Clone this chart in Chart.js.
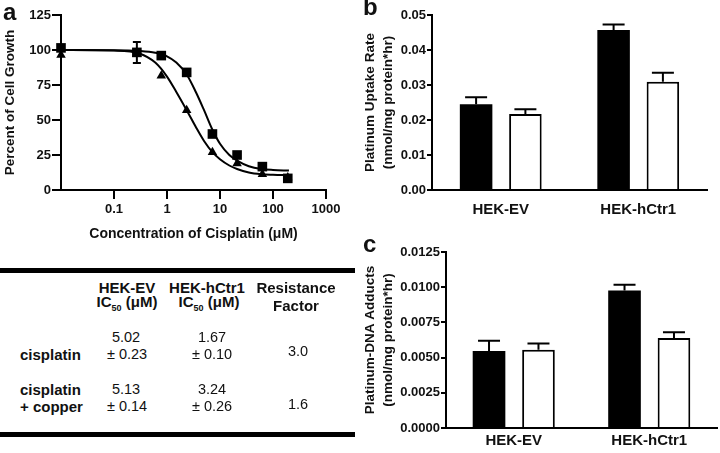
<!DOCTYPE html>
<html>
<head>
<meta charset="utf-8">
<script src="https://cdn.jsdelivr.net/npm/chart.js@4"></script>
<style>
  body { margin: 0; background: #fff; font-family: "Liberation Sans", Arial, sans-serif; color: #111; }
  #wrap { position: relative; width: 720px; height: 453px; overflow: hidden; }
  canvas { position: absolute; }
  .letter { position: absolute; font-weight: bold; font-size: 24px; line-height: 24px; }
  .t { position: absolute; font-size: 14.5px; line-height: 15px; white-space: nowrap; transform: translate(-50%, -50%); }
  .b { font-weight: bold; font-size: 15px; }
  .left { transform: translate(0, -50%); }
  .rule { position: absolute; left: 0; width: 355px; height: 5px; background: #000; }
  sub { font-size: 9px; }
</style>
</head>
<body>
<div id="wrap">
  <canvas id="chartA" width="355" height="245" style="left:0;top:0"></canvas>
  <canvas id="chartB" width="360" height="225" style="left:360px;top:0"></canvas>
  <canvas id="chartC" width="360" height="228" style="left:360px;top:225px"></canvas>
  <div class="letter" style="left:3px;top:0">a</div>
  <div class="letter" style="left:363px;top:-5px">b</div>
  <div class="letter" style="left:363px;top:232px">c</div>
  <div class="rule" style="top:268px"></div>
  <div class="rule" style="top:432px"></div>
  <div id="table"></div>
</div>
<script>
// Panel a - cell growth vs cisplatin concentration
const concentrations = [0.01, 0.27, 0.78, 2.35, 7.2, 21, 63, 190];
const evGrowth = [101.5, 98.3, 96, 84, 40, 25, 16.7, 8.3];
const evGrowthErr = [0, 7.5, 0, 0, 0, 0, 0, 0];
const ctrGrowth = [96.5, 97, 81.6, 57, 27, 19, 11.2, 9];

// fitted curves
const curveConc = [0.01, 0.1, 0.3, 0.6, 1, 1.5, 2.35, 3.5, 5, 7.2, 10, 15, 21, 35, 60, 100, 200];
const evCurve = [100, 99.9, 99.3, 98, 95.5, 91, 82.5, 70, 57, 43, 33, 25, 21, 17, 15, 14.3, 13.9];
const ctrCurve = [100, 99.6, 97.5, 91, 81, 70, 57, 45, 35, 27, 22, 17.5, 15, 12.5, 11.3, 10.9, 10.6];
const concTicks = [0.1, 1, 10, 100, 1000];

// Panels b and c
const cellLines = ['HEK-EV', 'HEK-hCtr1'];
const uptakeBlack = [0.0245, 0.0457];
const uptakeBlackErr = [0.002, 0.0016];
const uptakeWhite = [0.0217, 0.0309];
const uptakeWhiteErr = [0.0014, 0.0026];
const adductBlack = [0.00547, 0.00977];
const adductBlackErr = [0.00073, 0.0004];
const adductWhite = [0.00556, 0.00639];
const adductWhiteErr = [0.00044, 0.00041];

// Table
const tableRows = [
    { name: ['cisplatin'], ev: ['5.02', '\u00b1 0.23'], ctr: ['1.67', '\u00b1 0.10'], rf: '3.0' },
    { name: ['cisplatin', '+ copper'], ev: ['5.13', '\u00b1 0.14'], ctr: ['3.24', '\u00b1 0.26'], rf: '1.6' }
];

const FONT = "'Liberation Sans', Arial, sans-serif";
Chart.defaults.font.family = FONT;
Chart.defaults.color = '#111';
Chart.defaults.animation = false;
Chart.defaults.plugins.legend.display = false;
Chart.defaults.plugins.tooltip.enabled = false;

// draws error bars from dataset.errors
const errorBars = {
    id: 'errorBars',
    afterDatasetsDraw(chart) {
        const ctx = chart.ctx;
        const yScale = chart.scales.y;
        chart.data.datasets.forEach((ds, i) => {
            if (!ds.errors) return;
            const meta = chart.getDatasetMeta(i);
            meta.data.forEach((el, j) => {
                const err = ds.errors[j];
                if (!err) return;
                const v = typeof ds.data[j] === 'object' ? ds.data[j].y : ds.data[j];
                const x = el.x;
                const top = yScale.getPixelForValue(v + err);
                const bottom = ds.bothWays ? yScale.getPixelForValue(v - err) : el.y;
                const cap = ds.capWidth / 2;
                ctx.save();
                ctx.strokeStyle = '#000';
                ctx.lineWidth = 2;
                ctx.beginPath();
                ctx.moveTo(x, top);
                ctx.lineTo(x, bottom);
                ctx.moveTo(x - cap, top);
                ctx.lineTo(x + cap, top);
                if (ds.bothWays) {
                    ctx.moveTo(x - cap, bottom);
                    ctx.lineTo(x + cap, bottom);
                }
                ctx.stroke();
                ctx.restore();
            });
        });
    }
};

function axisStyle(tickLength) {
    return {
        grid: { drawOnChartArea: false, drawTicks: true, tickLength: tickLength, color: '#000', lineWidth: 2 },
        border: { color: '#000', width: 2 }
    };
}

// ---- Panel a ----
new Chart(document.getElementById('chartA'), {
    type: 'scatter',
    data: {
        datasets: [{
            data: curveConc.map((c, i) => ({ x: c, y: evCurve[i] })),
            showLine: true, pointRadius: 0, borderColor: '#000', borderWidth: 2,
            cubicInterpolationMode: 'monotone', clip: false
        }, {
            data: curveConc.map((c, i) => ({ x: c, y: ctrCurve[i] })),
            showLine: true, pointRadius: 0, borderColor: '#000', borderWidth: 2,
            cubicInterpolationMode: 'monotone', clip: false
        }, {
            data: concentrations.map((c, i) => ({ x: c, y: ctrGrowth[i] })),
            pointStyle: 'triangle', pointRadius: 5.5, backgroundColor: '#000', borderColor: '#000', borderWidth: 0,
            clip: false
        }, {
            data: concentrations.map((c, i) => ({ x: c, y: evGrowth[i] })),
            pointStyle: 'rect', pointRadius: 6.8, backgroundColor: '#000', borderColor: '#000', borderWidth: 0,
            errors: evGrowthErr, bothWays: true, capWidth: 8, clip: false
        }]
    },
    options: {
        responsive: false,
        layout: { padding: { top: 15, right: 29, left: 0, bottom: 0 } },
        scales: {
            x: {
                type: 'logarithmic', min: 0.01, max: 1000,
                ...axisStyle(9),
                afterBuildTicks: scale => { scale.ticks = concTicks.map(v => ({ value: v })); },
                afterFit: scale => { scale.height = 55; },
                ticks: { font: { size: 13, weight: 'bold' }, padding: 3, maxRotation: 0, callback: v => String(v) },
                title: { display: true, text: 'Concentration of Cisplatin (\u03bcM)', font: { size: 14, weight: 'bold' }, padding: { top: 0, bottom: 2 } }
            },
            y: {
                min: 0, max: 125,
                ...axisStyle(9),
                afterFit: scale => { scale.width = 61; },
                ticks: { stepSize: 25, font: { size: 13, weight: 'bold' }, padding: 1 },
                title: { display: true, text: 'Percent of Cell Growth', font: { size: 13.5, weight: 'bold' }, padding: { top: 2, bottom: 0 } }
            }
        }
    },
    plugins: [errorBars]
});

// ---- Panels b and c ----
function barChart(id, blackVals, blackErr, whiteVals, whiteErr, yOpts) {
    new Chart(document.getElementById(id), {
        type: 'bar',
        data: {
            labels: cellLines,
            datasets: [{
                data: blackVals, backgroundColor: '#000', borderWidth: 0,
                errors: blackErr, capWidth: 22
            }, {
                data: whiteVals, backgroundColor: '#fff', borderColor: '#000', borderWidth: 2,
                errors: whiteErr, capWidth: 22
            }]
        },
        options: {
            responsive: false,
            categoryPercentage: yOpts.cat,
            barPercentage: 0.66,
            layout: { padding: yOpts.padding },
            scales: {
                x: {
                    grid: { display: false, drawTicks: false },
                    border: { color: '#000', width: 2 },
                    afterFit: scale => { scale.height = yOpts.xHeight; },
                    ticks: { font: { size: 15, weight: 'bold' }, padding: yOpts.xPad }
                },
                y: {
                    min: 0, max: yOpts.max,
                    ...axisStyle(yOpts.tick),
                    afterFit: scale => { scale.width = yOpts.yWidth; },
                    ticks: { stepSize: yOpts.step, font: { size: 13, weight: 'bold' }, padding: 1,
                        callback: v => v.toFixed(yOpts.digits) },
                    title: { display: true, text: yOpts.title, font: { size: 13.5, weight: 'bold', lineHeight: 1.33 }, padding: { top: 1, bottom: 0 } }
                }
            }
        },
        plugins: [errorBars]
    });
}

barChart('chartB', uptakeBlack, uptakeBlackErr, uptakeWhite, uptakeWhiteErr, {
    max: 0.05, step: 0.01, digits: 2, yWidth: 72, xHeight: 35, xPad: 11, tick: 5, cat: 0.717,
    padding: { top: 15, right: 13, left: 0, bottom: 0 },
    title: ['Platinum Uptake Rate', '(nmol/mg protein*hr)']
});

barChart('chartC', adductBlack, adductBlackErr, adductWhite, adductWhiteErr, {
    max: 0.0125, step: 0.0025, digits: 4, yWidth: 86, xHeight: 25, xPad: 4, tick: 5, cat: 0.73,
    padding: { top: 27, right: 3, left: 0, bottom: 0 },
    title: ['Platinum-DNA Adducts', '(nmol/mg protein*hr)']
});

// ---- Table ----
const table = document.getElementById('table');
function addText(html, x, y, cls) {
    const d = document.createElement('div');
    d.className = 't ' + (cls || '');
    d.style.left = x + 'px';
    d.style.top = y + 'px';
    d.innerHTML = html;
    table.appendChild(d);
}
addText('HEK-EV', 127, 287, 'b');
addText('IC<sub>50</sub> (\u03bcM)', 127, 305, 'b');
addText('HEK-hCtr1', 207, 287, 'b');
addText('IC<sub>50</sub> (\u03bcM)', 209, 305, 'b');
addText('Resistance', 296, 287, 'b');
addText('Factor', 296, 305, 'b');

const rowTops = [337, 389];
tableRows.forEach((row, r) => {
    const y0 = rowTops[r];
    const nameY = row.name.length === 1 ? y0 + 17 : y0;
    row.name.forEach((n, k) => addText(n, 20, nameY + k * 17, 'b left'));
    addText(row.ev[0], 126, y0);
    addText(row.ev[1], 127, y0 + 17);
    addText(row.ctr[0], 212, y0);
    addText(row.ctr[1], 212, y0 + 17);
    addText(row.rf, 298, y0 + (r === 0 ? 14 : 15));
});
</script>
</body>
</html>
